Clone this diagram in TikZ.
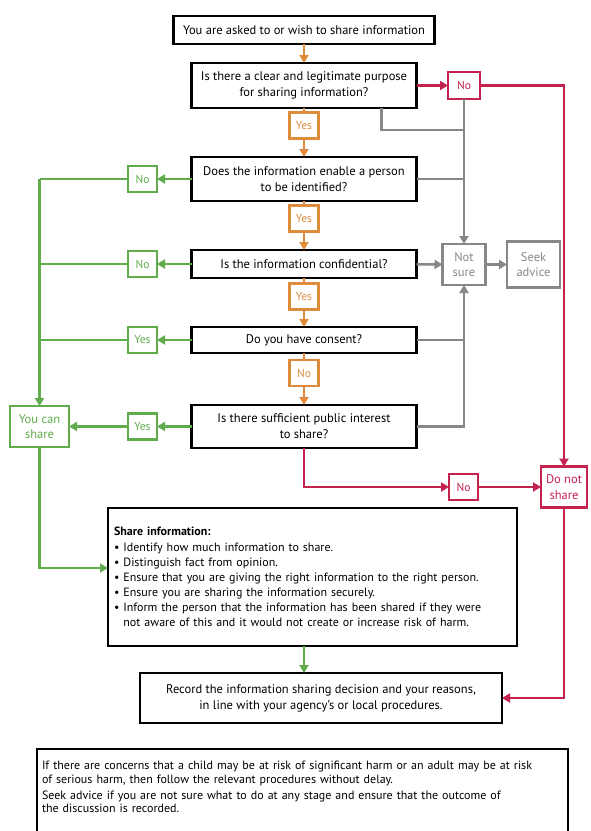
\documentclass[tikz,border=0pt]{standalone}
\usepackage{fontspec}
\setmainfont{PT Sans}
\usetikzlibrary{arrows.meta,calc}
\definecolor{cOr}{RGB}{222,140,60}
\definecolor{cGr}{RGB}{96,172,76}
\definecolor{cRd}{RGB}{196,34,78}
\definecolor{cGy}{RGB}{135,135,135}
\begin{document}
\begin{tikzpicture}[x=1pt,y=-1pt,
  every node/.style={inner sep=0pt, outer sep=0pt},
  qbox/.style={draw=black, line width=2.8pt, fill=white, align=center, minimum width=225, font=\fontsize{12.5}{16}\selectfont},
  lab/.style={draw, fill=white, line width=2.2pt, minimum width=29, minimum height=26, align=center, font=\fontsize{11.5}{13}\selectfont},
  biglab/.style={font=\fontsize{12.5}{15.5}\selectfont},
  labO/.style={lab, draw=cOr, text=cOr},
  labG/.style={lab, draw=cGr, text=cGr},
  labR/.style={lab, draw=cRd, text=cRd},
  labY/.style={lab, draw=cGy, text=cGy},
  con/.style={line width=2.5pt},
  tip/.style={-{Triangle[length=8pt,width=9pt]}},
  cO/.style={con, draw=cOr}, aO/.style={cO, tip},
  cG/.style={con, draw=cGr}, aG/.style={cG, tip},
  cR/.style={con, draw=cRd}, aR/.style={cR, tip},
  cY/.style={con, draw=cGy}, aY/.style={cY, tip},
]
\useasboundingbox[fill=white] (0,0) rectangle (590,831);

% main column
\node[qbox, minimum width=261, minimum height=28] (top) at (304,30) {You are asked to or wish to share information};
\node[qbox, minimum height=45] (q1) at (304,85.5) {Is there a clear and legitimate purpose\\for sharing information?};
\node[labO] (y1) at (304,125.5) {Yes};
\node[qbox, minimum height=44] (q2) at (304,179) {Does the information enable a person\\to be identified?};
\node[labO] (y2) at (304,218.5) {Yes};
\node[qbox, minimum height=28] (q3) at (304,264) {Is the information confidential?};
\node[labO] (y3) at (304,296.5) {Yes};
\node[qbox, minimum height=26] (q4) at (304,340) {Do you have consent?};
\node[labO] (n4) at (304,373) {No};
\node[qbox, minimum height=43] (q5) at (304,426.5) {Is there sufficient public interest\\to share?};

% right side
\node[labR, minimum width=32, minimum height=27] (r1) at (464,85.5) {No};
\node[labY, biglab, minimum width=43, minimum height=41] (ns) at (464,264.5) {Not\\sure};
\node[labY, biglab, minimum width=53, minimum height=46] (sa) at (533.5,264.5) {Seek\\advice};
\node[labR] (r5) at (463.5,487) {No};
\node[labR, biglab, minimum width=46, minimum height=41] (dns) at (564,487) {Do not\\share};

% left side
\node[labG] (g2) at (142.5,179) {No};
\node[labG] (g3) at (142.5,264) {No};
\node[labG] (g4) at (142.5,340) {Yes};
\node[labG] (g5) at (142.5,426.5) {Yes};
\node[labG, biglab, minimum width=59, minimum height=41] (ycs) at (39.5,426.5) {You can\\share};

% share information
\node[draw=black, line width=2.8pt, fill=white, minimum width=409, minimum height=138,
      text width=397, inner xsep=6pt, align=left, font=\fontsize{12}{15}\selectfont] (share) at (312.5,577)
{{\bfseries Share information:}\\[1pt]
\textbullet~Identify how much information to share.\\
\textbullet~Distinguish fact from opinion.\\
\textbullet~Ensure that you are giving the right information to the right person.\\
\textbullet~Ensure you are sharing the information securely.\\
\textbullet~Inform the person that the information has been shared if they were\\
\phantom{\textbullet~}not aware of this and it would not create or increase risk of harm.};

\node[qbox, minimum width=362, minimum height=50] (rec) at (321,698)
{Record the information sharing decision and your reasons,\\in line with your agency's or local procedures.};

% note box (bottom edge cut by page)
\draw[line width=2.8pt] (37,840) -- (37,749) -- (568,749) -- (568,840);
\node[anchor=north west, text width=524, align=left, font=\fontsize{12}{13.8}\selectfont] (note) at (42,761)
{If there are concerns that a child may be at risk of significant harm or an adult may be at risk\\
of serious harm, then follow the relevant procedures without delay.\\[2pt]
Seek advice if you are not sure what to do at any stage and ensure that the outcome of\\
the discussion is recorded.};

% orange connectors
\draw[aO] (top) -- (q1);
\draw[cO] (q1) -- (y1);
\draw[aO] (y1) -- (q2);
\draw[cO] (q2) -- (y2);
\draw[aO] (y2) -- (q3);
\draw[cO] (q3) -- (y3);
\draw[aO] (y3) -- (q4);
\draw[cO] (q4) -- (n4);
\draw[aO] (n4) -- (q5);

% grey connectors
\coordinate (q1g) at ($(q1.south east)+(-35,0)$);
\coordinate (q1k) at ($(q1g)+(0,22)$);
\draw[cY] (q1g) -- (q1k) -- (q1k -| ns);
\draw[aY] (r1) -- (ns);
\draw[cY] (q2) -- (q2 -| ns);
\draw[aY] (q3) -- (ns);
\draw[aY] (ns) -- (sa);
\draw[cY] (q4) -- (q4 -| ns);
\draw[aY] (q5) -| (ns);

% red connectors
\draw[aR] (q1) -- (r1);
\draw[aR] (r1) -| (dns);
\draw[aR] (q5) |- (r5);
\draw[aR] (r5) -- (dns);
\draw[aR] (dns) |- (rec);

% green connectors
\draw[aG] (q2) -- (g2);
\draw[aG] (q3) -- (g3);
\draw[aG] (q4) -- (g4);
\draw[aG] (q5) -- (g5);
\draw[cG] (g2) -- (g2 -| ycs);
\draw[cG] (g3) -- (g3 -| ycs);
\draw[cG] (g4) -- (g4 -| ycs);
\draw[aG] (g2 -| ycs) -- (ycs);
\draw[aG] (g5) -- (ycs);
\coordinate (shin) at ($(share.west)+(0,-9)$);
\draw[aG] (ycs) |- (shin);
\draw[aG] (q5.south |- share.south) -- (q5.south |- rec.north);
\end{tikzpicture}
\end{document}
